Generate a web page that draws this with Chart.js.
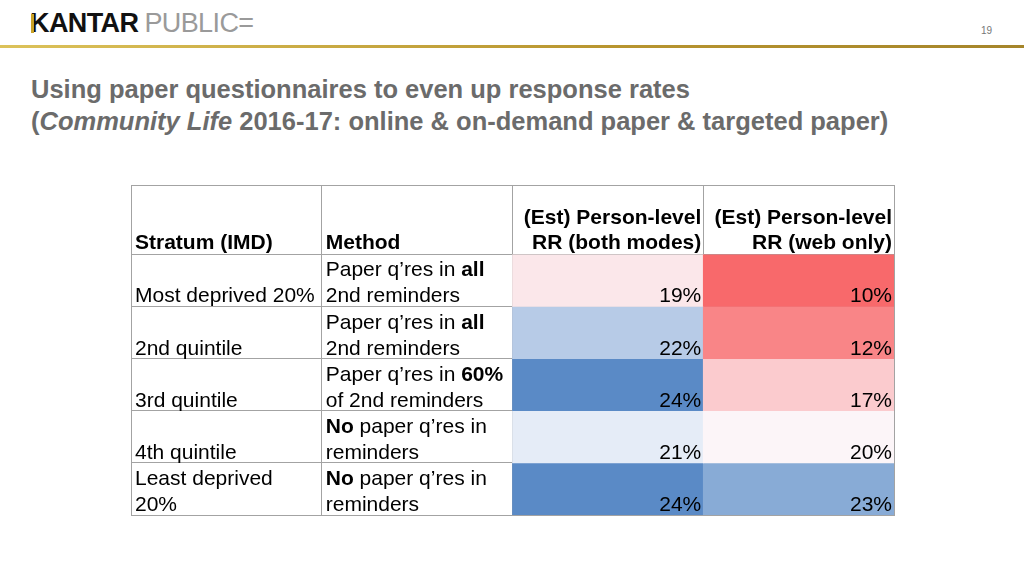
<!DOCTYPE html>
<html>
<head>
<meta charset="utf-8">
<script src="https://cdn.jsdelivr.net/npm/chart.js@4"></script>
<style>
    body { margin: 0; width: 1024px; height: 576px; background: #fff; position: relative; overflow: hidden; font-family: "Liberation Sans", Arial, sans-serif; }
    #chart { position: absolute; left: 0; top: 0; }
    .logo { position: absolute; left: 30px; top: 8px; font-size: 27px; line-height: 30px; letter-spacing: -0.6px; white-space: nowrap; }
    .logo .k { font-weight: bold; color: #111; position: relative; }
    .logo .k::before { content: ''; position: absolute; left: 1px; top: 6px; width: 3px; height: 19px; background: #c9a227; }
    .logo .p { color: #9a9a9a; margin-left: 6px; }
    .rule { position: absolute; left: 0; top: 45px; width: 1024px; height: 3px; background: linear-gradient(to right, #dcc25a, #b8952f 60%, #a5852a); }
    .page { position: absolute; left: 981px; top: 25px; font-size: 10px; color: #777; }
    .title { position: absolute; left: 31px; top: 73px; font-size: 25.5px; line-height: 32px; font-weight: bold; color: #6b6b6b; white-space: nowrap; }
</style>
</head>
<body>
<div class="logo"><span class="k">KANTAR</span><span class="p">PUBLIC=</span></div>
<div class="rule"></div>
<div class="page">19</div>
<div class="title">Using paper questionnaires to even up response rates<br>(<i>Community Life</i> 2016-17: online &amp; on-demand paper &amp; targeted paper)</div>
<canvas id="chart" width="1024" height="576"></canvas>
<script>
// table columns
const columns = ['Stratum (IMD)', 'Method', 'Both modes', 'Web only'];
const headerLines = [
    ['', 'Stratum (IMD)'],
    ['', 'Method'],
    ['(Est) Person-level', 'RR (both modes)'],
    ['(Est) Person-level', 'RR (web only)']
];
const strata = [
    ['', 'Most deprived 20%'],
    ['', '2nd quintile'],
    ['', '3rd quintile'],
    ['', '4th quintile'],
    ['Least deprived', '20%']
];
// **x** = bold
const methods = [
    ['Paper q’res in **all**', '2nd reminders'],
    ['Paper q’res in **all**', '2nd reminders'],
    ['Paper q’res in **60%**', 'of 2nd reminders'],
    ['**No** paper q’res in', 'reminders'],
    ['**No** paper q’res in', 'reminders']
];
const rrBoth = [19, 22, 24, 21, 24];
const rrWeb = [10, 12, 17, 20, 23];

const HEADER = -1.33;
const rowEdges = [HEADER, 0, 1, 2, 3, 4, 5];

// excel style red - white - blue colour scale over both columns
const allVals = rrBoth.concat(rrWeb).slice().sort((a, b) => a - b);
const vMin = allVals[0];
const vMax = allVals[allVals.length - 1];
const vMid = (allVals[4] + allVals[5]) / 2;
const RED = [248, 105, 107], WHITE = [252, 252, 255], BLUE = [90, 138, 198];

function mix(a, b, t) {
    return 'rgb(' + a.map((v, i) => Math.round(v + (b[i] - v) * t)).join(',') + ')';
}
function cellColor(v) {
    if (v <= vMid) return mix(WHITE, RED, (vMid - v) / (vMid - vMin));
    return mix(WHITE, BLUE, (v - vMid) / (vMax - vMid));
}

const datasets = rrBoth.map((v, r) => ({
    data: [null, null, [r, r + 1], [r, r + 1]],
    backgroundColor: ['#fff', '#fff', cellColor(v), cellColor(rrWeb[r])],
    borderWidth: 0,
    grouped: false,
    categoryPercentage: 1,
    barPercentage: 1
}));

const FONT = '"Liberation Sans", Arial, sans-serif';

function drawRich(ctx, text, x, y) {
    const parts = text.split('**');
    let cx = x;
    parts.forEach((p, i) => {
        ctx.font = (i % 2 ? 'bold ' : '') + '21px ' + FONT;
        ctx.fillText(p, cx, y);
        cx += ctx.measureText(p).width;
    });
}

const cellText = {
    id: 'cellText',
    afterDraw(chart) {
        const ctx = chart.ctx;
        const xs = chart.scales.x, ys = chart.scales.y;
        const half = (xs.getPixelForValue(1) - xs.getPixelForValue(0)) / 2;
        ctx.save();
        ctx.fillStyle = '#000';
        ctx.textBaseline = 'alphabetic';
        // header
        const hb = ys.getPixelForValue(0) - 5;
        headerLines.forEach((lines, c) => {
            const cx = xs.getPixelForValue(c);
            ctx.font = 'bold 21px ' + FONT;
            lines.forEach((t, i) => {
                const y = hb - (lines.length - 1 - i) * 25;
                if (c < 2) { ctx.textAlign = 'left'; ctx.fillText(t, cx - half + 4, y); }
                else { ctx.textAlign = 'right'; ctx.fillText(t, cx + half - 2, y); }
            });
        });
        // rows
        for (let r = 0; r < rrBoth.length; r++) {
            const base = ys.getPixelForValue(r + 1) - 4;
            ctx.textAlign = 'left';
            [strata[r], methods[r]].forEach((lines, c) => {
                const left = xs.getPixelForValue(c) - half + 4;
                lines.forEach((t, i) => drawRich(ctx, t, left, base - (lines.length - 1 - i) * 26));
            });
            ctx.font = '21px ' + FONT;
            ctx.textAlign = 'right';
            ctx.fillText(rrBoth[r] + '%', xs.getPixelForValue(2) + half - 2, base);
            ctx.fillText(rrWeb[r] + '%', xs.getPixelForValue(3) + half - 2, base);
        }
        ctx.restore();
    }
};

new Chart(document.getElementById('chart'), {
    type: 'bar',
    data: { labels: columns, datasets: datasets },
    options: {
        responsive: false,
        animation: false,
        layout: { padding: { left: 131, top: 185, right: 130, bottom: 61 } },
        plugins: { legend: { display: false }, tooltip: { enabled: false } },
        scales: {
            x: {
                type: 'category',
                offset: true,
                z: 1,
                ticks: { display: false },
                grid: { offset: true, color: '#a3a3a3', lineWidth: 1, drawTicks: false },
                border: { display: true, color: '#a3a3a3' }
            },
            y: {
                type: 'linear',
                reverse: true,
                min: HEADER,
                max: 5,
                z: 1,
                afterBuildTicks: (scale) => { scale.ticks = rowEdges.map(v => ({ value: v })); },
                ticks: { display: false },
                grid: { color: '#a3a3a3', lineWidth: 1, drawTicks: false },
                border: { display: true, color: '#a3a3a3' }
            }
        }
    },
    plugins: [cellText]
});
</script>
</body>
</html>
